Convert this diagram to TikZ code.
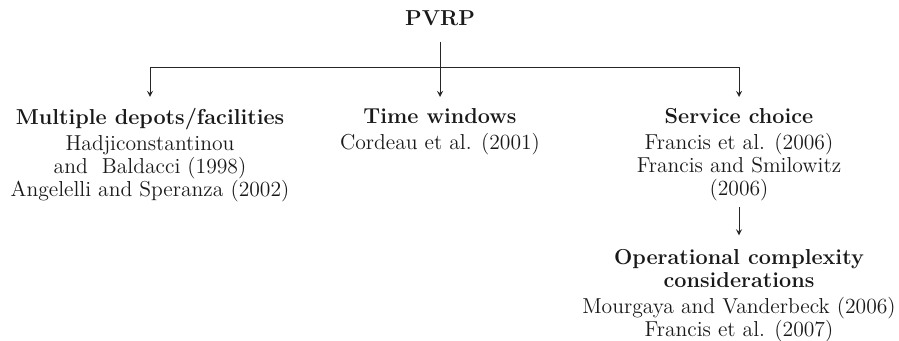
\documentclass[tikz,border=0pt]{standalone}
\usepackage{tikz}
\usetikzlibrary{arrows.meta,positioning,calc}

\tikzset{
  topic/.style={align=center,inner sep=0pt,anchor=north,
    font=\fontsize{12.3}{13.1}\selectfont,text=black!90},
  link/.style={draw=black!85,line width=0.55pt}
}

\begin{document}
\begin{tikzpicture}[>=stealth]
\useasboundingbox (0,0) rectangle (17.98,6.82);
\node[font=\fontsize{12.3}{13.1}\selectfont\bfseries,text=black!90] (root) at (8.8,6.46) {PVRP};
\coordinate (split) at (8.8,5.48);
\node[topic] (depots) at (3.0,4.66) {\textbf{Multiple depots/facilities}\\[1.5pt] Hadjiconstantinou\\ and~ Baldacci (1998)\\ Angelelli and Speranza (2002)};
\node[topic] (timewin) at (8.8,4.66) {\textbf{Time windows}\\[1.5pt] Cordeau et al. (2001)};
\node[topic] (service) at (14.78,4.66) {\textbf{Service choice}\\[1.5pt] Francis et al. (2006)\\ Francis and Smilowitz\\ (2006)};
\node[topic,below=0.97cm of service] (opcomplex) {\textbf{Operational complexity}\\ \textbf{considerations}\\[1.5pt] Mourgaya and Vanderbeck (2006)\\ Francis et al. (2007)};
\draw[link,shorten <=0.2cm] (root) -- (split);
\draw[link,->,shorten >=0.22cm] (split) -| (depots);
\draw[link,->,shorten >=0.22cm] (split) -- (timewin);
\draw[link,->,shorten >=0.22cm] (split) -| (service);
\draw[link,->,shorten <=0.12cm,shorten >=0.28cm] (service) -- (opcomplex);
\end{tikzpicture}
\end{document}
